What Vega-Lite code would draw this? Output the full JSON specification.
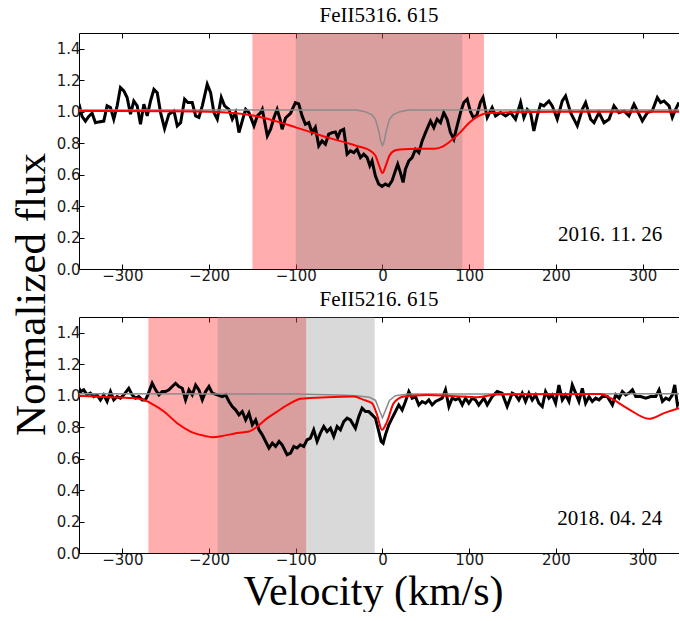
{
  "$schema": "https://vega.github.io/schema/vega-lite/v6.json",
  "background": "white",
  "padding": {"left": 10, "top": 4, "right": 0, "bottom": 0},
  "bounds": "flush",
  "spacing": 48,
  "config": {
    "view": {"stroke": null},
    "axis": {
      "labelFont": "DejaVu Sans", "labelFontSize": 15, "labelColor": "#1a1a1a",
      "domainColor": "#000000", "domainWidth": 1, "tickColor": "#000000", "tickSize": -5, "tickWidth": 1,
      "grid": false, "titleFont": "Liberation Serif", "titleFontWeight": "normal", "titleColor": "#000000", "titleFontSize": 43
    },
    "title": {"font": "Liberation Serif", "fontSize": 21, "fontWeight": "normal", "color": "#000000", "frame": "group", "anchor": "middle", "baseline": "alphabetic", "offset": 7}
  },
  "datasets": {
    "pink1": [{"a": -150, "b": 117}],
    "gspan1": [{"a": -100, "b": 92}],
    "pink2": [{"a": -270, "b": -88}],
    "gspan2": [{"a": -190, "b": -9}],
    "date1": [{"v": 322.7, "f": 0.18, "t": "2016. 11. 26"}],
    "date2": [{"v": 322.7, "f": 0.18, "t": "2018. 04. 24"}],
    "obs1": [
      {"v": -350, "f": 1.05}, {"v": -346.5, "f": 0.97}, {"v": -342.6, "f": 0.94}, {"v": -338.8, "f": 0.97}, {"v": -334.9, "f": 0.99},
      {"v": -331, "f": 0.93}, {"v": -327.2, "f": 0.935}, {"v": -321.4, "f": 0.94}, {"v": -317.6, "f": 1.037}, {"v": -313.7, "f": 1.026},
      {"v": -309.9, "f": 0.952}, {"v": -306, "f": 1.037}, {"v": -302.2, "f": 1.153}, {"v": -298.3, "f": 1.132}, {"v": -294.5, "f": 1.09},
      {"v": -290.6, "f": 0.984}, {"v": -286.8, "f": 1.068}, {"v": -282.9, "f": 1.037}, {"v": -279.1, "f": 0.92}, {"v": -275.2, "f": 1.047},
      {"v": -271.3, "f": 0.973}, {"v": -267.5, "f": 1.068}, {"v": -263.6, "f": 1.142}, {"v": -259.8, "f": 1.121}, {"v": -255.9, "f": 0.994},
      {"v": -251.3, "f": 0.892}, {"v": -246.3, "f": 0.984}, {"v": -240.5, "f": 1.005}, {"v": -236.7, "f": 0.91}, {"v": -232.8, "f": 0.93},
      {"v": -228.2, "f": 1.079}, {"v": -224.4, "f": 1.058}, {"v": -219.4, "f": 1.058}, {"v": -215.5, "f": 0.973}, {"v": -211.7, "f": 0.963},
      {"v": -207.8, "f": 1.037}, {"v": -202.1, "f": 1.174}, {"v": -198.2, "f": 1.121}, {"v": -194.4, "f": 0.994}, {"v": -190.5, "f": 0.952},
      {"v": -185.9, "f": 1.09}, {"v": -182.1, "f": 1.037}, {"v": -177.1, "f": 1.015}, {"v": -173.2, "f": 0.952}, {"v": -169.4, "f": 0.994},
      {"v": -165.5, "f": 0.867}, {"v": -161.7, "f": 0.941}, {"v": -157.8, "f": 1.015}, {"v": -154, "f": 0.994}, {"v": -148.2, "f": 0.91},
      {"v": -144.3, "f": 0.973}, {"v": -140.5, "f": 0.994}, {"v": -138.6, "f": 1.015}, {"v": -132.8, "f": 0.846}, {"v": -129, "f": 0.888},
      {"v": -125.1, "f": 0.963}, {"v": -121.5, "f": 1.015}, {"v": -118, "f": 0.95}, {"v": -115.7, "f": 0.888}, {"v": -111.8, "f": 0.96},
      {"v": -106, "f": 0.99}, {"v": -100.4, "f": 1.058}, {"v": -96.6, "f": 1.05}, {"v": -92.7, "f": 0.973}, {"v": -88.9, "f": 0.92},
      {"v": -85, "f": 0.93}, {"v": -81.2, "f": 0.867}, {"v": -77.4, "f": 0.9}, {"v": -73.5, "f": 0.783}, {"v": -69.7, "f": 0.814},
      {"v": -65.8, "f": 0.793}, {"v": -62, "f": 0.857}, {"v": -58, "f": 0.867}, {"v": -54.3, "f": 0.871}, {"v": -51.6, "f": 0.835},
      {"v": -48.5, "f": 0.878}, {"v": -44.7, "f": 0.888}, {"v": -40.8, "f": 0.73}, {"v": -37, "f": 0.751}, {"v": -33, "f": 0.74},
      {"v": -29.3, "f": 0.761}, {"v": -25.4, "f": 0.708}, {"v": -21.6, "f": 0.73}, {"v": -17.7, "f": 0.708}, {"v": -14.6, "f": 0.656},
      {"v": -12, "f": 0.687}, {"v": -8.2, "f": 0.592}, {"v": -4.4, "f": 0.54}, {"v": -0.5, "f": 0.525}, {"v": 3.3, "f": 0.54},
      {"v": 7.2, "f": 0.529}, {"v": 11, "f": 0.56}, {"v": 14.9, "f": 0.624}, {"v": 17.6, "f": 0.666}, {"v": 20.7, "f": 0.613},
      {"v": 23.8, "f": 0.55}, {"v": 26.5, "f": 0.634}, {"v": 30.4, "f": 0.687}, {"v": 34.2, "f": 0.708}, {"v": 38.1, "f": 0.761},
      {"v": 42, "f": 0.74}, {"v": 45.8, "f": 0.814}, {"v": 49.6, "f": 0.867}, {"v": 55.4, "f": 0.941}, {"v": 59.2, "f": 0.899},
      {"v": 63, "f": 0.952}, {"v": 66.9, "f": 0.93}, {"v": 70.7, "f": 0.994}, {"v": 74.6, "f": 0.952}, {"v": 78.4, "f": 0.867},
      {"v": 82.3, "f": 0.825}, {"v": 86.1, "f": 0.91}, {"v": 90, "f": 0.994}, {"v": 93.8, "f": 1.058}, {"v": 97.7, "f": 1.079},
      {"v": 101.5, "f": 1.0}, {"v": 105, "f": 0.96}, {"v": 109, "f": 0.98}, {"v": 113, "f": 1.06}, {"v": 116, "f": 1.09},
      {"v": 120.8, "f": 0.963}, {"v": 126.5, "f": 1.026}, {"v": 130.4, "f": 0.973}, {"v": 136.2, "f": 0.994}, {"v": 142, "f": 0.973},
      {"v": 147.7, "f": 0.994}, {"v": 153.5, "f": 0.952}, {"v": 159.3, "f": 1.058}, {"v": 163.1, "f": 0.963}, {"v": 167, "f": 1.015},
      {"v": 170.8, "f": 0.994}, {"v": 174.6, "f": 0.878}, {"v": 178.5, "f": 0.973}, {"v": 182.3, "f": 1.047}, {"v": 186.2, "f": 1.037},
      {"v": 192, "f": 1.068}, {"v": 195.8, "f": 1.037}, {"v": 201.6, "f": 0.952}, {"v": 207.4, "f": 1.068}, {"v": 211.2, "f": 1.1},
      {"v": 217, "f": 0.994}, {"v": 224.7, "f": 0.91}, {"v": 230.5, "f": 1.015}, {"v": 234.3, "f": 1.058}, {"v": 240.1, "f": 0.952},
      {"v": 244, "f": 0.93}, {"v": 249.7, "f": 0.994}, {"v": 255.5, "f": 0.93}, {"v": 261.3, "f": 0.952}, {"v": 267, "f": 1.037},
      {"v": 272.8, "f": 0.994}, {"v": 278.6, "f": 1.005}, {"v": 284.3, "f": 0.973}, {"v": 290.1, "f": 1.047}, {"v": 295.9, "f": 0.984},
      {"v": 299.7, "f": 0.941}, {"v": 305.5, "f": 0.994}, {"v": 311.2, "f": 1.005}, {"v": 317, "f": 1.09}, {"v": 320.8, "f": 1.058},
      {"v": 324.7, "f": 1.068}, {"v": 330.5, "f": 1.037}, {"v": 334.3, "f": 0.963}, {"v": 338.1, "f": 1.015}, {"v": 342, "f": 1.058}
    ],
    "gline1": [
      {"v": -350, "f": 1.01}, {"v": -30, "f": 1.01}, {"v": -20, "f": 1.0}, {"v": -12, "f": 0.98}, {"v": -8, "f": 0.95},
      {"v": -4, "f": 0.87}, {"v": -2, "f": 0.81}, {"v": 0, "f": 0.785}, {"v": 2, "f": 0.81}, {"v": 4, "f": 0.87},
      {"v": 8, "f": 0.95}, {"v": 12, "f": 0.98}, {"v": 20, "f": 1.0}, {"v": 30, "f": 1.01}, {"v": 342, "f": 1.01}
    ],
    "red1": [
      {"v": -350, "f": 1.005}, {"v": -250, "f": 1.003}, {"v": -200, "f": 1.0}, {"v": -180, "f": 0.995}, {"v": -160, "f": 0.985},
      {"v": -140, "f": 0.965}, {"v": -120, "f": 0.935}, {"v": -100, "f": 0.9}, {"v": -80, "f": 0.865}, {"v": -60, "f": 0.83},
      {"v": -40, "f": 0.8}, {"v": -25, "f": 0.775}, {"v": -15, "f": 0.755}, {"v": -8, "f": 0.72}, {"v": -4, "f": 0.66},
      {"v": 0, "f": 0.61}, {"v": 4, "f": 0.66}, {"v": 8, "f": 0.72}, {"v": 13, "f": 0.75}, {"v": 20, "f": 0.76},
      {"v": 40, "f": 0.765}, {"v": 60, "f": 0.765}, {"v": 70, "f": 0.78}, {"v": 80, "f": 0.82}, {"v": 90, "f": 0.87},
      {"v": 100, "f": 0.93}, {"v": 110, "f": 0.97}, {"v": 120, "f": 0.99}, {"v": 140, "f": 0.995}, {"v": 200, "f": 1.0}, {"v": 342, "f": 1.0}
    ],
    "obs2": [
      {"v": -350, "f": 1.047}, {"v": -348, "f": 1.026}, {"v": -344.6, "f": 1.037}, {"v": -340.7, "f": 1.005}, {"v": -336.9, "f": 1.016},
      {"v": -333, "f": 0.994}, {"v": -329.2, "f": 1.005}, {"v": -325.3, "f": 0.973}, {"v": -321.5, "f": 1.005}, {"v": -317.6, "f": 0.963},
      {"v": -313.7, "f": 1.026}, {"v": -309.9, "f": 0.973}, {"v": -306, "f": 0.994}, {"v": -302.2, "f": 0.984}, {"v": -298.3, "f": 1.005},
      {"v": -292.6, "f": 1.047}, {"v": -288.7, "f": 1.005}, {"v": -284.9, "f": 0.984}, {"v": -281, "f": 0.994}, {"v": -277.2, "f": 0.973},
      {"v": -273.3, "f": 0.973}, {"v": -270.6, "f": 1.005}, {"v": -265.6, "f": 1.079}, {"v": -261.7, "f": 1.037}, {"v": -257.9, "f": 1.005},
      {"v": -254, "f": 1.026}, {"v": -250.2, "f": 1.026}, {"v": -246.3, "f": 1.037}, {"v": -242.5, "f": 1.058}, {"v": -238.6, "f": 1.079},
      {"v": -234.8, "f": 1.058}, {"v": -230.9, "f": 1.047}, {"v": -227.1, "f": 0.973}, {"v": -223.2, "f": 1.037}, {"v": -219.4, "f": 1.005},
      {"v": -215.5, "f": 1.068}, {"v": -211.7, "f": 1.037}, {"v": -207.8, "f": 0.973}, {"v": -204, "f": 1.026}, {"v": -200.1, "f": 1.058},
      {"v": -196.3, "f": 1.016}, {"v": -190.5, "f": 1.005}, {"v": -184.7, "f": 0.994}, {"v": -180.9, "f": 1.005}, {"v": -177, "f": 0.963},
      {"v": -173.2, "f": 0.931}, {"v": -169.4, "f": 0.91}, {"v": -165.5, "f": 0.878}, {"v": -161.7, "f": 0.899}, {"v": -157.8, "f": 0.846},
      {"v": -154, "f": 0.889}, {"v": -150.1, "f": 0.815}, {"v": -146.3, "f": 0.846}, {"v": -142.4, "f": 0.783}, {"v": -138.6, "f": 0.751},
      {"v": -134.7, "f": 0.709}, {"v": -130.9, "f": 0.667}, {"v": -127, "f": 0.698}, {"v": -123.2, "f": 0.677}, {"v": -119.3, "f": 0.709},
      {"v": -115.7, "f": 0.688}, {"v": -110, "f": 0.625}, {"v": -106, "f": 0.635}, {"v": -102.3, "f": 0.677}, {"v": -98.5, "f": 0.667},
      {"v": -94.7, "f": 0.688}, {"v": -90.8, "f": 0.677}, {"v": -87, "f": 0.719}, {"v": -83.1, "f": 0.73}, {"v": -79.3, "f": 0.783},
      {"v": -75.4, "f": 0.709}, {"v": -71.6, "f": 0.762}, {"v": -67.7, "f": 0.804}, {"v": -63.9, "f": 0.772}, {"v": -60, "f": 0.793},
      {"v": -56.2, "f": 0.741}, {"v": -52.3, "f": 0.804}, {"v": -48.5, "f": 0.783}, {"v": -44.7, "f": 0.835}, {"v": -40.8, "f": 0.857},
      {"v": -37, "f": 0.846}, {"v": -31.2, "f": 0.793}, {"v": -27.3, "f": 0.867}, {"v": -23.5, "f": 0.92}, {"v": -19.6, "f": 0.899},
      {"v": -15.8, "f": 0.899}, {"v": -11.9, "f": 0.878}, {"v": -8.1, "f": 0.857}, {"v": -4.2, "f": 0.772}, {"v": -1.5, "f": 0.709},
      {"v": 0.8, "f": 0.698}, {"v": 3.4, "f": 0.751}, {"v": 7.3, "f": 0.815}, {"v": 11.1, "f": 0.857}, {"v": 15, "f": 0.899},
      {"v": 18.8, "f": 0.941}, {"v": 22.7, "f": 0.909}, {"v": 26.5, "f": 0.963}, {"v": 30.4, "f": 1.026}, {"v": 34.2, "f": 0.984},
      {"v": 38.1, "f": 0.994}, {"v": 41.9, "f": 0.941}, {"v": 45.8, "f": 0.963}, {"v": 49.6, "f": 0.952}, {"v": 53.5, "f": 0.973},
      {"v": 57.3, "f": 0.941}, {"v": 61.2, "f": 0.963}, {"v": 65, "f": 0.973}, {"v": 68.9, "f": 0.984}, {"v": 72.7, "f": 1.037},
      {"v": 76.6, "f": 0.931}, {"v": 80.4, "f": 0.984}, {"v": 84.3, "f": 0.973}, {"v": 88.1, "f": 0.984}, {"v": 92, "f": 0.941},
      {"v": 95.8, "f": 0.984}, {"v": 99.6, "f": 0.952}, {"v": 103.5, "f": 0.984}, {"v": 107.3, "f": 0.973}, {"v": 111, "f": 0.94},
      {"v": 117, "f": 0.984}, {"v": 120.8, "f": 0.941}, {"v": 126.5, "f": 0.994}, {"v": 132.3, "f": 1.026}, {"v": 138, "f": 1.016},
      {"v": 143.8, "f": 0.931}, {"v": 149.6, "f": 1.016}, {"v": 153.5, "f": 1.005}, {"v": 157.3, "f": 0.973}, {"v": 161.2, "f": 1.016},
      {"v": 165, "f": 0.963}, {"v": 168.9, "f": 1.016}, {"v": 172.7, "f": 0.973}, {"v": 176.6, "f": 1.005}, {"v": 180.4, "f": 0.952},
      {"v": 184.3, "f": 0.931}, {"v": 188.1, "f": 1.026}, {"v": 192, "f": 0.984}, {"v": 195.8, "f": 1.005}, {"v": 199.7, "f": 0.952},
      {"v": 203.5, "f": 1.068}, {"v": 207.4, "f": 0.973}, {"v": 211.2, "f": 1.005}, {"v": 215.1, "f": 0.963}, {"v": 218.9, "f": 1.068},
      {"v": 222.8, "f": 1.016}, {"v": 226.6, "f": 0.963}, {"v": 230.5, "f": 1.047}, {"v": 234.3, "f": 0.952}, {"v": 238.2, "f": 0.994},
      {"v": 242, "f": 0.963}, {"v": 245.9, "f": 0.984}, {"v": 249.7, "f": 0.973}, {"v": 253.6, "f": 0.994}, {"v": 259.4, "f": 0.994},
      {"v": 265.2, "f": 0.941}, {"v": 269, "f": 1.005}, {"v": 272.9, "f": 0.984}, {"v": 276.7, "f": 1.026}, {"v": 280.6, "f": 1.005},
      {"v": 284.4, "f": 1.016}, {"v": 288.3, "f": 1.037}, {"v": 292.1, "f": 0.994}, {"v": 297.9, "f": 0.994}, {"v": 303.6, "f": 0.984},
      {"v": 309.4, "f": 0.994}, {"v": 315.2, "f": 0.994}, {"v": 319, "f": 1.037}, {"v": 322.9, "f": 0.963}, {"v": 326.7, "f": 0.984},
      {"v": 330.6, "f": 0.973}, {"v": 334.4, "f": 1.005}, {"v": 337.1, "f": 1.068}, {"v": 340.2, "f": 0.941}, {"v": 342, "f": 0.96}
    ],
    "gline2": [
      {"v": -350, "f": 1.012}, {"v": -100, "f": 1.01}, {"v": -50, "f": 1.005}, {"v": -30, "f": 1.0}, {"v": -15, "f": 0.99},
      {"v": -8, "f": 0.97}, {"v": -3, "f": 0.9}, {"v": 0, "f": 0.86}, {"v": 3, "f": 0.9}, {"v": 8, "f": 0.97},
      {"v": 15, "f": 1.0}, {"v": 30, "f": 1.01}, {"v": 342, "f": 1.012}
    ],
    "red2": [
      {"v": -350, "f": 1.0}, {"v": -313.7, "f": 0.99}, {"v": -290, "f": 0.985}, {"v": -275, "f": 0.973}, {"v": -263.7, "f": 0.941},
      {"v": -252, "f": 0.899}, {"v": -236.7, "f": 0.825}, {"v": -221.3, "f": 0.772}, {"v": -205.9, "f": 0.746}, {"v": -196.3, "f": 0.736},
      {"v": -182.8, "f": 0.746}, {"v": -167.4, "f": 0.762}, {"v": -154, "f": 0.772}, {"v": -144.3, "f": 0.804}, {"v": -132.8, "f": 0.857},
      {"v": -121.5, "f": 0.899}, {"v": -106, "f": 0.952}, {"v": -94.7, "f": 0.98}, {"v": -63.9, "f": 0.99}, {"v": -33.1, "f": 0.994},
      {"v": -21.6, "f": 0.973}, {"v": -12, "f": 0.952}, {"v": -6.2, "f": 0.878}, {"v": -0.5, "f": 0.783}, {"v": 5.3, "f": 0.835},
      {"v": 13, "f": 0.952}, {"v": 24.6, "f": 0.994}, {"v": 51.5, "f": 1.005}, {"v": 80, "f": 0.998}, {"v": 110, "f": 0.99},
      {"v": 132, "f": 1.008}, {"v": 251.6, "f": 1.01}, {"v": 263.2, "f": 0.984}, {"v": 282.4, "f": 0.92}, {"v": 307.4, "f": 0.853},
      {"v": 324.7, "f": 0.889}, {"v": 342, "f": 0.92}
    ]
  },
  "vconcat": [
    {
      "width": 600, "height": 236,
      "title": {"text": "FeII5316. 615", "font": "Liberation Serif", "fontSize": 21},
      "resolve": {"axis": {"x": "independent"}},
      "layer": [
        {"data": {"name": "pink1"}, "mark": {"type": "rect", "color": "#ff0000", "opacity": 0.32, "strokeWidth": 1},
          "encoding": {
            "x": {"field": "a", "type": "quantitative", "scale": {"domain": [-350, 342], "nice": false, "zero": false}, "axis": {"orient": "top", "values": [-300, -200, -100, 0, 100, 200, 300], "labels": false, "title": null}},
            "x2": {"field": "b"}}},
        {"data": {"name": "gspan1"}, "mark": {"type": "rect", "color": "#808080", "opacity": 0.3, "strokeWidth": 1},
          "encoding": {
            "x": {"field": "a", "type": "quantitative", "scale": {"domain": [-350, 342], "nice": false, "zero": false}, "axis": null},
            "x2": {"field": "b"}}},
        {"data": {"name": "obs1"}, "mark": {"type": "line", "color": "#000000", "strokeWidth": 3, "clip": true},
          "encoding": {
            "x": {"field": "v", "type": "quantitative", "scale": {"domain": [-350, 342], "nice": false, "zero": false}, "axis": {"orient": "bottom", "values": [-300, -200, -100, 0, 100, 200, 300], "format": "d", "title": null, "labelPadding": 4}},
            "y": {"field": "f", "type": "quantitative", "scale": {"domain": [0, 1.5], "nice": false}, "axis": {"orient": "left", "values": [0, 0.2, 0.4, 0.6, 0.8, 1.0, 1.2, 1.4], "format": ".1f", "labelPadding": 4, "title": "Normalized flux", "titleX": -35, "titleY": 261, "titleAngle": -90, "titleAlign": "center", "titleBaseline": "alphabetic"}}}},
        {"data": {"name": "gline1"}, "mark": {"type": "line", "color": "#8a8a8a", "strokeWidth": 1.5, "clip": true},
          "encoding": {
            "x": {"field": "v", "type": "quantitative", "scale": {"domain": [-350, 342], "nice": false, "zero": false}, "axis": null},
            "y": {"field": "f", "type": "quantitative", "scale": {"domain": [0, 1.5], "nice": false}, "axis": {"orient": "left", "values": [0, 0.2, 0.4, 0.6, 0.8, 1.0, 1.2, 1.4], "format": ".1f", "labelPadding": 4, "title": "Normalized flux", "titleX": -35, "titleY": 261, "titleAngle": -90, "titleAlign": "center", "titleBaseline": "alphabetic"}}}},
        {"data": {"name": "red1"}, "mark": {"type": "line", "color": "#ff0000", "strokeWidth": 2, "clip": true, "interpolate": "monotone"},
          "encoding": {
            "x": {"field": "v", "type": "quantitative", "scale": {"domain": [-350, 342], "nice": false, "zero": false}, "axis": null},
            "y": {"field": "f", "type": "quantitative", "scale": {"domain": [0, 1.5], "nice": false}, "axis": {"orient": "left", "values": [0, 0.2, 0.4, 0.6, 0.8, 1.0, 1.2, 1.4], "format": ".1f", "labelPadding": 4, "title": "Normalized flux", "titleX": -35, "titleY": 261, "titleAngle": -90, "titleAlign": "center", "titleBaseline": "alphabetic"}}}},
        {"data": {"name": "date1"}, "mark": {"type": "text", "font": "Liberation Serif", "fontSize": 21, "align": "right", "baseline": "alphabetic", "color": "#000000"},
          "encoding": {
            "x": {"field": "v", "type": "quantitative", "scale": {"domain": [-350, 342], "nice": false, "zero": false}, "axis": null},
            "y": {"field": "f", "type": "quantitative", "scale": {"domain": [0, 1.5], "nice": false}, "axis": {"orient": "left", "values": [0, 0.2, 0.4, 0.6, 0.8, 1.0, 1.2, 1.4], "format": ".1f", "labelPadding": 4, "title": "Normalized flux", "titleX": -35, "titleY": 261, "titleAngle": -90, "titleAlign": "center", "titleBaseline": "alphabetic"}},
            "text": {"field": "t"}}}
      ]
    },
    {
      "width": 600, "height": 236,
      "title": {"text": "FeII5216. 615", "font": "Liberation Serif", "fontSize": 21},
      "resolve": {"axis": {"x": "independent"}},
      "layer": [
        {"data": {"name": "pink2"}, "mark": {"type": "rect", "color": "#ff0000", "opacity": 0.32, "strokeWidth": 1},
          "encoding": {
            "x": {"field": "a", "type": "quantitative", "scale": {"domain": [-350, 342], "nice": false, "zero": false}, "axis": {"orient": "top", "values": [-300, -200, -100, 0, 100, 200, 300], "labels": false, "title": null}},
            "x2": {"field": "b"}}},
        {"data": {"name": "gspan2"}, "mark": {"type": "rect", "color": "#808080", "opacity": 0.3, "strokeWidth": 1},
          "encoding": {
            "x": {"field": "a", "type": "quantitative", "scale": {"domain": [-350, 342], "nice": false, "zero": false}, "axis": null},
            "x2": {"field": "b"}}},
        {"data": {"name": "obs2"}, "mark": {"type": "line", "color": "#000000", "strokeWidth": 3, "clip": true},
          "encoding": {
            "x": {"field": "v", "type": "quantitative", "scale": {"domain": [-350, 342], "nice": false, "zero": false}, "axis": {"orient": "bottom", "values": [-300, -200, -100, 0, 100, 200, 300], "format": "d", "labelPadding": 4, "title": "Velocity (km/s)", "titleFontSize": 42, "titleX": 294, "titleY": 51, "titleAlign": "center", "titleBaseline": "alphabetic"}},
            "y": {"field": "f", "type": "quantitative", "scale": {"domain": [0, 1.5], "nice": false}, "axis": {"orient": "left", "values": [0, 0.2, 0.4, 0.6, 0.8, 1.0, 1.2, 1.4], "format": ".1f", "labelPadding": 4, "title": null}}}},
        {"data": {"name": "gline2"}, "mark": {"type": "line", "color": "#8a8a8a", "strokeWidth": 1.5, "clip": true},
          "encoding": {
            "x": {"field": "v", "type": "quantitative", "scale": {"domain": [-350, 342], "nice": false, "zero": false}, "axis": null},
            "y": {"field": "f", "type": "quantitative", "scale": {"domain": [0, 1.5], "nice": false}, "axis": {"orient": "left", "values": [0, 0.2, 0.4, 0.6, 0.8, 1.0, 1.2, 1.4], "format": ".1f", "labelPadding": 4, "title": null}}}},
        {"data": {"name": "red2"}, "mark": {"type": "line", "color": "#ff0000", "strokeWidth": 2, "clip": true, "interpolate": "monotone"},
          "encoding": {
            "x": {"field": "v", "type": "quantitative", "scale": {"domain": [-350, 342], "nice": false, "zero": false}, "axis": null},
            "y": {"field": "f", "type": "quantitative", "scale": {"domain": [0, 1.5], "nice": false}, "axis": {"orient": "left", "values": [0, 0.2, 0.4, 0.6, 0.8, 1.0, 1.2, 1.4], "format": ".1f", "labelPadding": 4, "title": null}}}},
        {"data": {"name": "date2"}, "mark": {"type": "text", "font": "Liberation Serif", "fontSize": 21, "align": "right", "baseline": "alphabetic", "color": "#000000"},
          "encoding": {
            "x": {"field": "v", "type": "quantitative", "scale": {"domain": [-350, 342], "nice": false, "zero": false}, "axis": null},
            "y": {"field": "f", "type": "quantitative", "scale": {"domain": [0, 1.5], "nice": false}, "axis": {"orient": "left", "values": [0, 0.2, 0.4, 0.6, 0.8, 1.0, 1.2, 1.4], "format": ".1f", "labelPadding": 4, "title": null}},
            "text": {"field": "t"}}}
      ]
    }
  ]
}
